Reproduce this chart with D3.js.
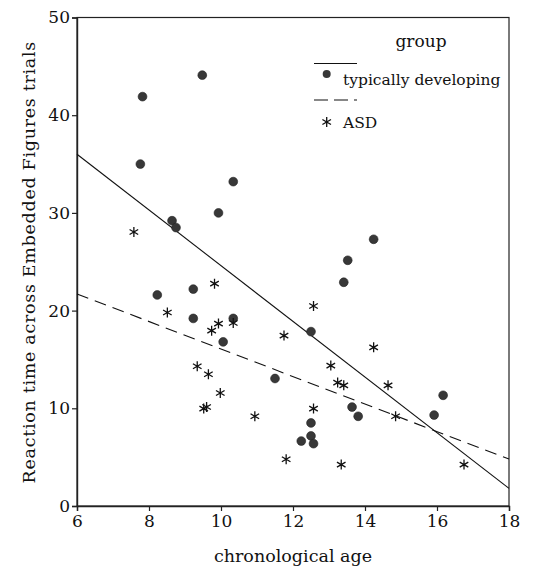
<!DOCTYPE html>
<style>
body { margin: 0; background: #fff; }
</style>
<svg id="chart" width="547" height="568"></svg>
<script src="https://d3js.org/d3.v7.min.js"></script>
<script>

// typically developing: [age, reaction time]
var tdPoints = [
  [7.82, 41.9], [7.76, 35.0], [9.48, 44.1], [10.34, 33.2], [9.93, 30.0],
  [8.64, 29.2], [8.75, 28.5], [8.23, 21.6], [9.23, 22.2], [9.23, 19.2],
  [10.34, 19.2], [10.06, 16.8], [12.5, 17.85], [13.41, 22.9], [13.52, 25.15],
  [14.24, 27.3], [11.5, 13.05], [12.5, 8.5], [12.5, 7.17], [12.23, 6.65],
  [12.57, 6.38], [13.64, 10.13], [13.81, 9.18], [15.92, 9.31], [16.17, 11.33]
];
// ASD
var asdPoints = [
  [7.58, 28.05], [8.51, 19.8], [9.82, 22.76], [9.74, 17.95], [9.93, 18.67],
  [10.34, 18.73], [11.75, 17.44], [12.57, 20.47], [14.24, 16.24], [9.34, 14.3],
  [9.65, 13.48], [13.05, 14.37], [9.98, 11.57], [9.52, 9.97], [9.6, 10.13],
  [10.94, 9.18], [13.24, 12.63], [13.41, 12.35], [14.64, 12.35], [12.57, 9.97],
  [14.85, 9.18], [11.81, 4.78], [13.34, 4.24], [16.75, 4.24]
];
// fit lines, value at age 6 and at age 18
var tdFit = [[6, 36.0], [18, 1.8]];
var asdFit = [[6, 21.7], [18, 4.8]];

var xTicks = [6, 8, 10, 12, 14, 16, 18];
var yTicks = [0, 10, 20, 30, 40, 50];
var groups = ["typically developing", "ASD"];

var serif = "'DejaVu Serif', serif";

var svg = d3.select("#chart");
var margin = {top: 17.5, right: 38, bottom: 62, left: 77};
var width = +svg.attr("width") - margin.left - margin.right;
var height = +svg.attr("height") - margin.top - margin.bottom;
var g = svg.append("g").attr("transform", "translate(" + margin.left + "," + margin.top + ")");

var x = d3.scaleLinear().domain([6, 18]).range([0, width]);
var y = d3.scaleLinear().domain([0, 50]).range([height, 0]);

// frame
g.append("rect")
  .attr("width", width).attr("height", height)
  .attr("fill", "none").attr("stroke", "#222").attr("stroke-width", 1.2);

var xAxis = g.append("g")
  .attr("transform", "translate(0," + height + ")")
  .call(d3.axisBottom(x).tickValues(xTicks).tickSize(5).tickPadding(4).tickFormat(d3.format("d")));
var yAxis = g.append("g")
  .call(d3.axisLeft(y).tickValues(yTicks).tickSize(5).tickPadding(2).tickFormat(d3.format("d")));
[xAxis, yAxis].forEach(function(a) {
  a.attr("font-family", null).attr("font-size", null);
  a.select(".domain").attr("stroke", "#222").attr("stroke-width", 1.4);
  a.selectAll(".tick line").attr("stroke", "#222").attr("stroke-width", 1.2);
  a.selectAll("text").style("font-family", serif).style("font-size", "17px").attr("fill", "#111");
});

// fit lines
var line = d3.line().x(function(d) { return x(d[0]); }).y(function(d) { return y(d[1]); });
g.append("path").attr("d", line(tdFit)).attr("fill", "none").attr("stroke", "#111").attr("stroke-width", 1.1);
g.append("path").attr("d", line(asdFit)).attr("fill", "none").attr("stroke", "#111").attr("stroke-width", 1.1)
  .attr("stroke-dasharray", "12,7");

function star(sel) {
  sel.append("path")
    .attr("d", "M0,-5V5M-4.3,-2.5L4.3,2.5M-4.3,2.5L4.3,-2.5")
    .attr("stroke", "#111").attr("stroke-width", 1.3).attr("fill", "none");
}

g.selectAll(".td").data(tdPoints).enter().append("circle")
  .attr("class", "td")
  .attr("cx", function(d) { return x(d[0]); })
  .attr("cy", function(d) { return y(d[1]); })
  .attr("r", 4.4)
  .attr("fill", "#383838").attr("stroke", "#222").attr("stroke-width", 0.6);

g.selectAll(".asd").data(asdPoints).enter().append("g")
  .attr("class", "asd")
  .attr("transform", function(d) { return "translate(" + x(d[0]) + "," + y(d[1]) + ")"; })
  .call(star);

function label(sel, size) {
  return sel.style("font-family", serif).style("font-size", size + "px").attr("fill", "#111");
}

// legend
var lg = svg.append("g").attr("transform", "translate(314,0)");
lg.append("text").attr("x", 107).attr("y", 47).attr("text-anchor", "middle").call(label, 17).text("group");
lg.append("line").attr("x1", 0).attr("x2", 43).attr("y1", 63.5).attr("y2", 63.5).attr("stroke", "#111").attr("stroke-width", 1.2);
lg.append("circle").attr("cx", 12.7).attr("cy", 74).attr("r", 4).attr("fill", "#383838");
lg.append("text").attr("x", 29).attr("y", 84.5).call(label, 15.5).text(groups[0]);
lg.append("line").attr("x1", 0).attr("x2", 43).attr("y1", 100).attr("y2", 100).attr("stroke", "#111").attr("stroke-width", 1.2)
  .attr("stroke-dasharray", "14,6");
lg.append("g").attr("transform", "translate(12.7,122)").call(star);
lg.append("text").attr("x", 29).attr("y", 128).call(label, 15.5).text(groups[1]);

// axis titles
svg.append("text").attr("x", margin.left + width / 2).attr("y", 562).attr("text-anchor", "middle")
  .call(label, 17.5).text("chronological age");
svg.append("text").attr("transform", "translate(35," + (margin.top + height / 2 + 0.5) + ") rotate(-90)")
  .attr("text-anchor", "middle").call(label, 17.5).style("letter-spacing", "0.7px")
  .text("Reaction time across Embedded Figures trials");

</script>
